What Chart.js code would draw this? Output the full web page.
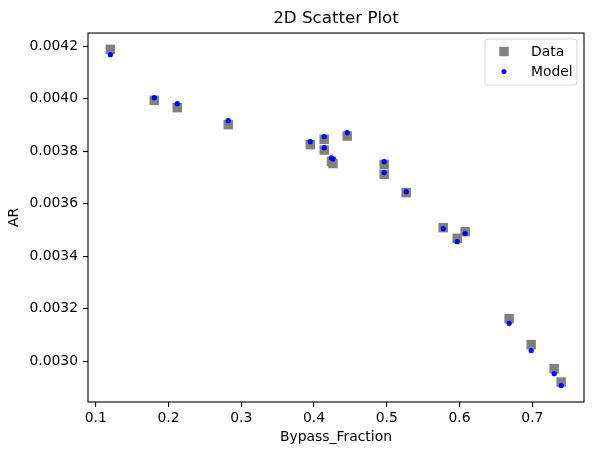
<!DOCTYPE html>
<html>
<head>
<meta charset="utf-8">
<script src="https://cdn.jsdelivr.net/npm/chart.js@4"></script>
<style>
  html, body { margin: 0; padding: 0; background: #fff; }
  #wrap { width: 593px; height: 455px; }
</style>
</head>
<body>
<div id="wrap"><canvas id="scatterChart" width="593" height="455"></canvas></div>
<script>
const bypassFraction = [
    0.1201, 0.1805, 0.2121, 0.2821, 0.3948, 0.4140, 0.4140, 0.4240, 0.4260,
    0.4456, 0.4964, 0.4964, 0.5267, 0.5775, 0.5967, 0.6077, 0.6681, 0.6984,
    0.7300, 0.7396
];
const arData = [
    0.0041886, 0.0039943, 0.0039665, 0.0039017, 0.0038255, 0.0038457, 0.0038050, 0.0037620, 0.0037535,
    0.0038583, 0.0037505, 0.0037124, 0.0036427, 0.0035093, 0.0034686, 0.0034941, 0.0031627, 0.0030636,
    0.0029722, 0.0029211
];
const arModel = [
    0.0041684, 0.0040046, 0.0039817, 0.0039170, 0.0038370, 0.0038560, 0.0038141, 0.0037752, 0.0037705,
    0.0038712, 0.0037608, 0.0037189, 0.0036465, 0.0035055, 0.0034560, 0.0034865, 0.0031448, 0.0030408,
    0.0029531, 0.0029074
];
const xTicks = [0.1, 0.2, 0.3, 0.4, 0.5, 0.6, 0.7];
const yTicks = [0.0030, 0.0032, 0.0034, 0.0036, 0.0038, 0.0040, 0.0042];

const toPoints = (ys) => bypassFraction.map((x, i) => ({ x: x, y: ys[i] }));

const font = 'DejaVu Sans';

// box round the axes plus the legend in the upper right corner
const framePlugin = {
    id: 'frame',
    afterDraw(chart) {
        const { ctx, chartArea: a } = chart;
        ctx.save();
        ctx.strokeStyle = '#000';
        ctx.lineWidth = 1.1;
        ctx.strokeRect(a.left, a.top, a.right - a.left, a.bottom - a.top);

        // legend
        const bx = 485, by = 39, bw = 92, bh = 46;
        ctx.beginPath();
        ctx.roundRect(bx, by, bw, bh, 3);
        ctx.fillStyle = 'rgba(255,255,255,0.8)';
        ctx.fill();
        ctx.strokeStyle = '#d6d6d6';
        ctx.lineWidth = 1;
        ctx.stroke();

        ctx.font = '13.9px "' + font + '"';
        ctx.textBaseline = 'middle';
        ctx.textAlign = 'left';
        const rows = [chart.data.datasets[0], chart.data.datasets[1]];
        rows.forEach((ds, i) => {
            const cy = 51.5 + i * 20;
            ctx.fillStyle = ds.backgroundColor;
            if (ds.pointStyle === 'rect') {
                ctx.fillRect(504 - 4.7, cy - 4.7, 9.4, 9.4);
            } else {
                ctx.beginPath();
                ctx.arc(504, cy, 2.5, 0, Math.PI * 2);
                ctx.fill();
            }
            ctx.fillStyle = '#000';
            ctx.fillText(ds.label, 531, cy + 1);
        });
        ctx.restore();
    }
};

const config = {
    type: 'scatter',
    data: {
        datasets: [
            {
                label: 'Data',
                data: toPoints(arData),
                pointStyle: 'rect',
                pointRadius: 6.7,
                pointHoverRadius: 6.7,
                backgroundColor: '#808080',
                borderWidth: 0,
                order: 2,
            },
            {
                label: 'Model',
                data: toPoints(arModel),
                pointStyle: 'circle',
                pointRadius: 2.6,
                pointHoverRadius: 2.6,
                backgroundColor: '#0000ff',
                borderWidth: 0,
                order: 1,
            },
        ],
    },
    options: {
        responsive: false,
        animation: false,
        devicePixelRatio: 1,
        layout: {
            padding: { top: 0, right: 9, bottom: 0, left: 0 },
        },
        plugins: {
            legend: { display: false },
            tooltip: { enabled: false },
            title: {
                display: true,
                text: '2D Scatter Plot',
                fullSize: false,
                color: '#000',
                font: { family: font, size: 16.7, weight: 'normal' },
                padding: { top: 9, bottom: 4 },
            },
        },
        scales: {
            x: {
                type: 'linear',
                min: 0.0894,
                max: 0.771,
                afterFit(axis) { axis.height = 53; },
                afterBuildTicks(axis) { axis.ticks = xTicks.map(v => ({ value: v })); },
                ticks: {
                    color: '#000',
                    padding: 3,
                    maxRotation: 0,
                    font: { family: font, size: 13.9 },
                    callback: (v) => v.toFixed(1),
                },
                grid: {
                    display: true,
                    drawOnChartArea: false,
                    drawTicks: true,
                    tickLength: 5,
                    color: '#000',
                    lineWidth: 1.1,
                },
                border: { display: false },
                title: {
                    display: true,
                    text: 'Bypass_Fraction',
                    color: '#000',
                    font: { family: font, size: 13.9 },
                    padding: { top: 0, bottom: 9.5 },
                },
            },
            y: {
                type: 'linear',
                min: 0.002845,
                max: 0.0042507,
                afterFit(axis) { axis.width = 88; },
                afterBuildTicks(axis) { axis.ticks = yTicks.map(v => ({ value: v })); },
                ticks: {
                    color: '#000',
                    padding: 5,
                    font: { family: font, size: 13.9 },
                    callback: (v) => v.toFixed(4),
                },
                grid: {
                    display: true,
                    drawOnChartArea: false,
                    drawTicks: true,
                    tickLength: 5,
                    color: '#000',
                    lineWidth: 1.1,
                },
                border: { display: false },
                title: {
                    display: true,
                    text: 'AR',
                    color: '#000',
                    font: { family: font, size: 13.9 },
                    padding: { top: 6.5, bottom: 0 },
                },
            },
        },
    },
    plugins: [framePlugin],
};

const ctx = document.getElementById('scatterChart').getContext('2d');
new Chart(ctx, config);
</script>
</body>
</html>
